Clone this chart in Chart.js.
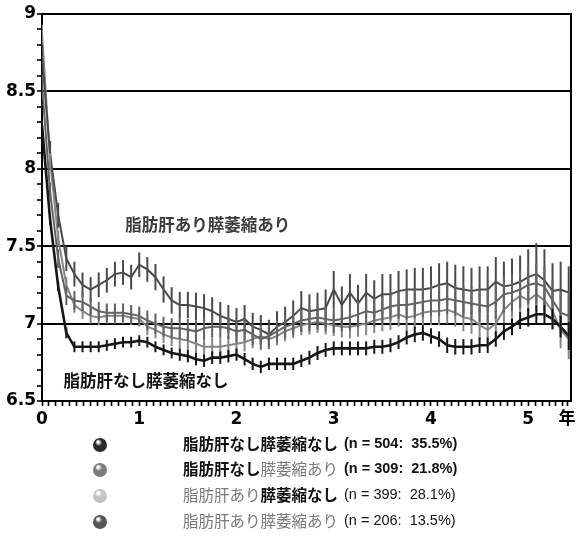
<!DOCTYPE html>
<html lang="ja">
<head>
<meta charset="utf-8">
<script src="https://cdn.jsdelivr.net/npm/chart.js@4.4.1/dist/chart.umd.min.js"></script>
<style>
  html, body { margin: 0; padding: 0; background: #fff; }
  #wrap { width: 580px; height: 542px; }
</style>
</head>
<body>
<div id="wrap"><canvas id="c" width="580" height="542"></canvas></div>
<script>
// Follow-up month of each measurement
const months = [0,1,2,3,4,5,6,7,8,9,10,11,12,13,14,15,16,17,18,19,20,21,22,23,24,25,26,27,28,29,30,31,32,33,34,35,36,37,38,39,40,41,42,43,44,45,46,47,48,49,50,51,52,53,54,55,56,57,58,59,60,61,62,63,64,65];

// Group labels
const fatLiver = ['脂肪肝なし', '脂肪肝なし', '脂肪肝あり', '脂肪肝あり'];
const atrophy = ['膵萎縮なし', '膵萎縮あり', '膵萎縮なし', '膵萎縮あり'];
const groupN = [504, 309, 399, 206];
const groupPct = ['35.5', '21.8', '28.1', '13.5'];

// Mean HbA1c per month
const meanNoNo = [8.28,7.67,7.24,6.94,6.85,6.85,6.85,6.85,6.86,6.87,
  6.88,6.88,6.89,6.88,6.85,6.83,6.81,6.80,6.79,6.77,
  6.76,6.78,6.78,6.79,6.80,6.77,6.74,6.72,6.74,6.74,
  6.74,6.74,6.76,6.78,6.81,6.83,6.84,6.84,6.84,6.84,
  6.84,6.85,6.85,6.86,6.88,6.91,6.93,6.94,6.92,6.90,
  6.86,6.85,6.85,6.85,6.86,6.86,6.90,6.95,6.98,7.02,
  7.04,7.06,7.06,7.03,6.98,6.92];
const meanNoYes = [8.55,7.85,7.42,7.18,7.15,7.14,7.11,7.08,7.07,7.07,
  7.07,7.06,7.05,7.02,7.00,6.98,6.97,6.97,6.96,6.95,
  6.97,6.98,6.98,6.97,6.95,6.96,6.93,6.90,6.92,6.95,
  6.98,7.00,7.02,7.03,7.04,7.03,7.02,7.03,7.04,7.06,
  7.08,7.07,7.09,7.11,7.12,7.12,7.13,7.14,7.15,7.15,
  7.16,7.15,7.14,7.13,7.12,7.11,7.14,7.19,7.20,7.22,
  7.25,7.26,7.24,7.15,7.07,7.05];
const meanYesNo = [8.88,8.05,7.55,7.25,7.12,7.08,7.05,7.04,7.05,7.05,
  7.05,7.04,7.03,6.98,6.96,6.93,6.91,6.90,6.89,6.87,
  6.85,6.85,6.85,6.86,6.87,6.88,6.90,6.92,6.90,6.92,
  6.95,6.97,6.99,7.00,7.01,7.00,6.99,6.98,6.98,6.99,
  7.00,7.02,7.03,7.04,7.06,7.04,7.05,7.07,7.08,7.08,
  7.09,7.07,7.04,7.03,6.99,6.96,7.00,7.09,7.14,7.18,
  7.15,7.19,7.15,7.08,6.96,6.90];
const meanYesYes = [8.72,8.10,7.70,7.42,7.32,7.25,7.22,7.25,7.28,7.32,
  7.33,7.30,7.38,7.35,7.30,7.22,7.15,7.12,7.12,7.11,
  7.10,7.08,7.05,7.03,7.01,7.03,6.98,6.96,6.93,6.98,
  7.01,7.05,7.10,7.08,7.09,7.10,7.22,7.12,7.20,7.13,
  7.20,7.16,7.19,7.19,7.21,7.22,7.22,7.22,7.23,7.25,
  7.26,7.23,7.22,7.21,7.22,7.22,7.27,7.24,7.25,7.27,
  7.30,7.32,7.28,7.21,7.22,7.20];

// Standard errors per month
const errNoNo = [.03,.03,.03,.035,.035,.035,.035,.035,.035,.035,
  .035,.035,.035,.035,.035,.035,.035,.04,.04,.04,
  .04,.04,.04,.04,.04,.04,.04,.04,.04,.04,
  .04,.04,.04,.045,.045,.045,.045,.045,.045,.045,
  .045,.045,.045,.045,.045,.045,.05,.05,.05,.05,
  .05,.05,.05,.05,.05,.05,.05,.055,.055,.055,
  .06,.06,.06,.065,.07,.09];
const errNoYes = [.06,.06,.06,.06,.06,.06,.06,.06,.06,.06,
  .06,.06,.06,.065,.065,.065,.065,.07,.07,.07,
  .07,.07,.07,.07,.07,.07,.07,.07,.07,.07,
  .075,.075,.075,.08,.08,.08,.08,.08,.085,.085,
  .085,.09,.09,.09,.09,.095,.095,.1,.1,.1,
  .1,.1,.1,.11,.11,.11,.11,.12,.12,.12,
  .12,.13,.13,.13,.14,.14];
const errYesNo = [.05,.05,.05,.05,.05,.05,.05,.05,.05,.05,
  .05,.05,.05,.055,.055,.055,.055,.06,.06,.06,
  .06,.06,.06,.06,.06,.06,.06,.06,.06,.06,
  .065,.065,.065,.07,.07,.07,.07,.07,.075,.075,
  .075,.08,.08,.08,.08,.085,.085,.085,.09,.09,
  .09,.09,.09,.095,.095,.1,.1,.1,.1,.105,
  .11,.11,.11,.12,.12,.13];
const errYesYes = [.08,.08,.08,.08,.08,.08,.08,.08,.08,.08,
  .08,.08,.08,.08,.085,.085,.085,.085,.085,.09,
  .09,.09,.09,.09,.09,.09,.09,.095,.095,.1,
  .1,.1,.11,.11,.11,.12,.12,.12,.12,.12,
  .12,.12,.13,.13,.13,.13,.14,.14,.14,.14,
  .14,.15,.15,.15,.15,.15,.16,.16,.17,.17,
  .18,.2,.2,.18,.18,.17];

// Axis labels
const yearTicks = ['0', '1', '2', '3', '4', '5'];
const yearUnit = '年';
const yTickLabels = ['6.5', '7', '7.5', '8', '8.5', '9'];

const seriesMeans = [meanNoNo, meanNoYes, meanYesNo, meanYesYes];
const seriesErrs = [errNoNo, errNoYes, errYesNo, errYesYes];
const lineColors = ['#161616', '#626262', '#858585', '#4a4a4a'];
const lineWidths = [2.6, 2, 2, 2];
const markerColors = ['#2a2a2a', '#7c7c7c', '#c4c4c4', '#555555'];
const drawOrder = [0, 2, 3, 1];

const datasets = seriesMeans.map((vals, s) => ({
  label: fatLiver[s] + atrophy[s],
  data: vals.map((v, i) => ({ x: months[i] / 12, y: v })),
  borderColor: lineColors[s],
  borderWidth: lineWidths[s],
  pointRadius: 0,
  tension: 0,
  fill: false,
  order: drawOrder[s],
  errs: seriesErrs[s]
}));

const tickFont = { family: "'DejaVu Sans', 'Noto Sans CJK JP', sans-serif", size: 17, weight: 'bold' };
const xMax = 5.44;
const unitPos = 5.40;

// Vertical error bars drawn through the value scale
const errorBars = {
  id: 'errorBars',
  afterDatasetsDraw(chart) {
    const ctx = chart.ctx;
    const ys = chart.scales.y;
    const a = chart.chartArea;
    ctx.save();
    ctx.beginPath();
    ctx.rect(a.left, a.top, a.right - a.left, a.bottom - a.top);
    ctx.clip();
    [3, 2, 1, 0].forEach(s => {
      const ds = chart.data.datasets[s];
      const meta = chart.getDatasetMeta(s);
      ctx.strokeStyle = ds.borderColor;
      ctx.lineWidth = 2;
      meta.data.forEach((pt, i) => {
        const v = ds.data[i].y, e = ds.errs[i];
        ctx.beginPath();
        ctx.moveTo(pt.x, ys.getPixelForValue(v + e));
        ctx.lineTo(pt.x, ys.getPixelForValue(v - e));
        ctx.stroke();
      });
    });
    ctx.restore();
  }
};

// Right frame line, in-plot captions and the group key below the axis
const decorations = {
  id: 'decorations',
  afterDraw(chart) {
    const ctx = chart.ctx;
    const a = chart.chartArea;
    const xs = chart.scales.x, ys = chart.scales.y;
    ctx.save();
    ctx.strokeStyle = '#000';
    ctx.lineWidth = 2;
    ctx.beginPath();
    ctx.moveTo(a.right, a.top - 1);
    ctx.lineTo(a.right, a.bottom);
    ctx.stroke();

    const jp = "'Noto Sans CJK JP', sans-serif";
    ctx.textBaseline = 'middle';
    ctx.textAlign = 'left';
    ctx.font = 'bold 16.5px ' + jp;
    ctx.fillStyle = '#3c3c3c';
    ctx.fillText(fatLiver[3] + atrophy[3], xs.getPixelForValue(0.855), ys.getPixelForValue(7.64));
    ctx.fillStyle = '#111';
    ctx.fillText(fatLiver[0] + atrophy[0], xs.getPixelForValue(0.22), ys.getPixelForValue(6.63));

    // key rows
    const rowY = [444, 469, 495, 521];
    const textX = 183, markX = 100;
    for (let r = 0; r < 4; r++) {
      const cy = rowY[r];
      const g = ctx.createRadialGradient(markX - 2, cy - 2, 1, markX, cy, 8);
      g.addColorStop(0, '#ffffff');
      g.addColorStop(0.35, markerColors[r]);
      g.addColorStop(1, markerColors[r]);
      ctx.fillStyle = g;
      ctx.beginPath();
      ctx.arc(markX, cy + 1, 7, 0, Math.PI * 2);
      ctx.fill();

      let x = textX;
      const parts = [
        { t: fatLiver[r], strong: fatLiver[r].endsWith('なし') },
        { t: atrophy[r], strong: atrophy[r].endsWith('なし') }
      ];
      parts.forEach(p => {
        ctx.font = (p.strong ? 'bold ' : '') + '15.5px ' + jp;
        ctx.fillStyle = p.strong ? '#111' : '#7a7a7a';
        ctx.fillText(p.t, x, cy);
        x += ctx.measureText(p.t).width;
      });
      x += 6;
      ctx.font = (r < 2 ? 'bold ' : '') + "14.5px 'Liberation Sans', sans-serif";
      ctx.fillStyle = '#111';
      ctx.fillText('(n = ' + groupN[r] + ':  ' + groupPct[r] + '%)', x, cy);
    }
    ctx.restore();
  }
};

new Chart(document.getElementById('c'), {
  type: 'line',
  data: { datasets },
  options: {
    responsive: false,
    animation: false,
    layout: { padding: { left: 0, top: 14, right: 9, bottom: 111 } },
    plugins: { legend: { display: false }, tooltip: { enabled: false } },
    scales: {
      x: {
        type: 'linear',
        min: 0,
        max: xMax,
        afterBuildTicks(axis) {
          const t = [];
          for (let k = 0; k <= 75; k++) t.push({ value: k / 14 });
          t.push({ value: unitPos });
          axis.ticks = t;
        },
        afterFit(scale) { scale.height = 30; },
        border: { display: true, color: '#000', width: 2 },
        grid: { drawOnChartArea: false, drawTicks: true, tickLength: 5, tickColor: '#000', tickWidth: 1.6 },
        ticks: {
          autoSkip: false,
          maxRotation: 0,
          padding: 3,
          color: '#000',
          font: tickFont,
          callback(v) {
            if (Math.abs(v - unitPos) < 1e-9) return yearUnit;
            const r = Math.round(v);
            if (Math.abs(v - r) < 1e-9 && r < yearTicks.length) return yearTicks[r];
            return '';
          }
        }
      },
      y: {
        min: 6.5,
        max: 9,
        afterBuildTicks(axis) {
          const t = [];
          for (let k = 65; k <= 90; k++) t.push({ value: k / 10 });
          axis.ticks = t;
        },
        afterFit(scale) { scale.width = 42; },
        border: { display: true, color: '#000', width: 2 },
        grid: {
          drawTicks: true,
          tickLength: 5,
          tickWidth: 1.6,
          tickColor: '#000',
          lineWidth: 2,
          color(ctx) {
            const v = ctx.tick ? ctx.tick.value : 0;
            return Math.abs(v * 2 - Math.round(v * 2)) < 1e-6 ? '#000' : 'rgba(0,0,0,0)';
          }
        },
        ticks: {
          autoSkip: false,
          padding: 1,
          color: '#000',
          font: tickFont,
          callback(v) {
            const idx = Math.round((v - 6.5) * 2);
            return Math.abs(v * 2 - Math.round(v * 2)) < 1e-6 ? yTickLabels[idx] : '';
          }
        }
      }
    }
  },
  plugins: [errorBars, decorations]
});
</script>
</body>
</html>
